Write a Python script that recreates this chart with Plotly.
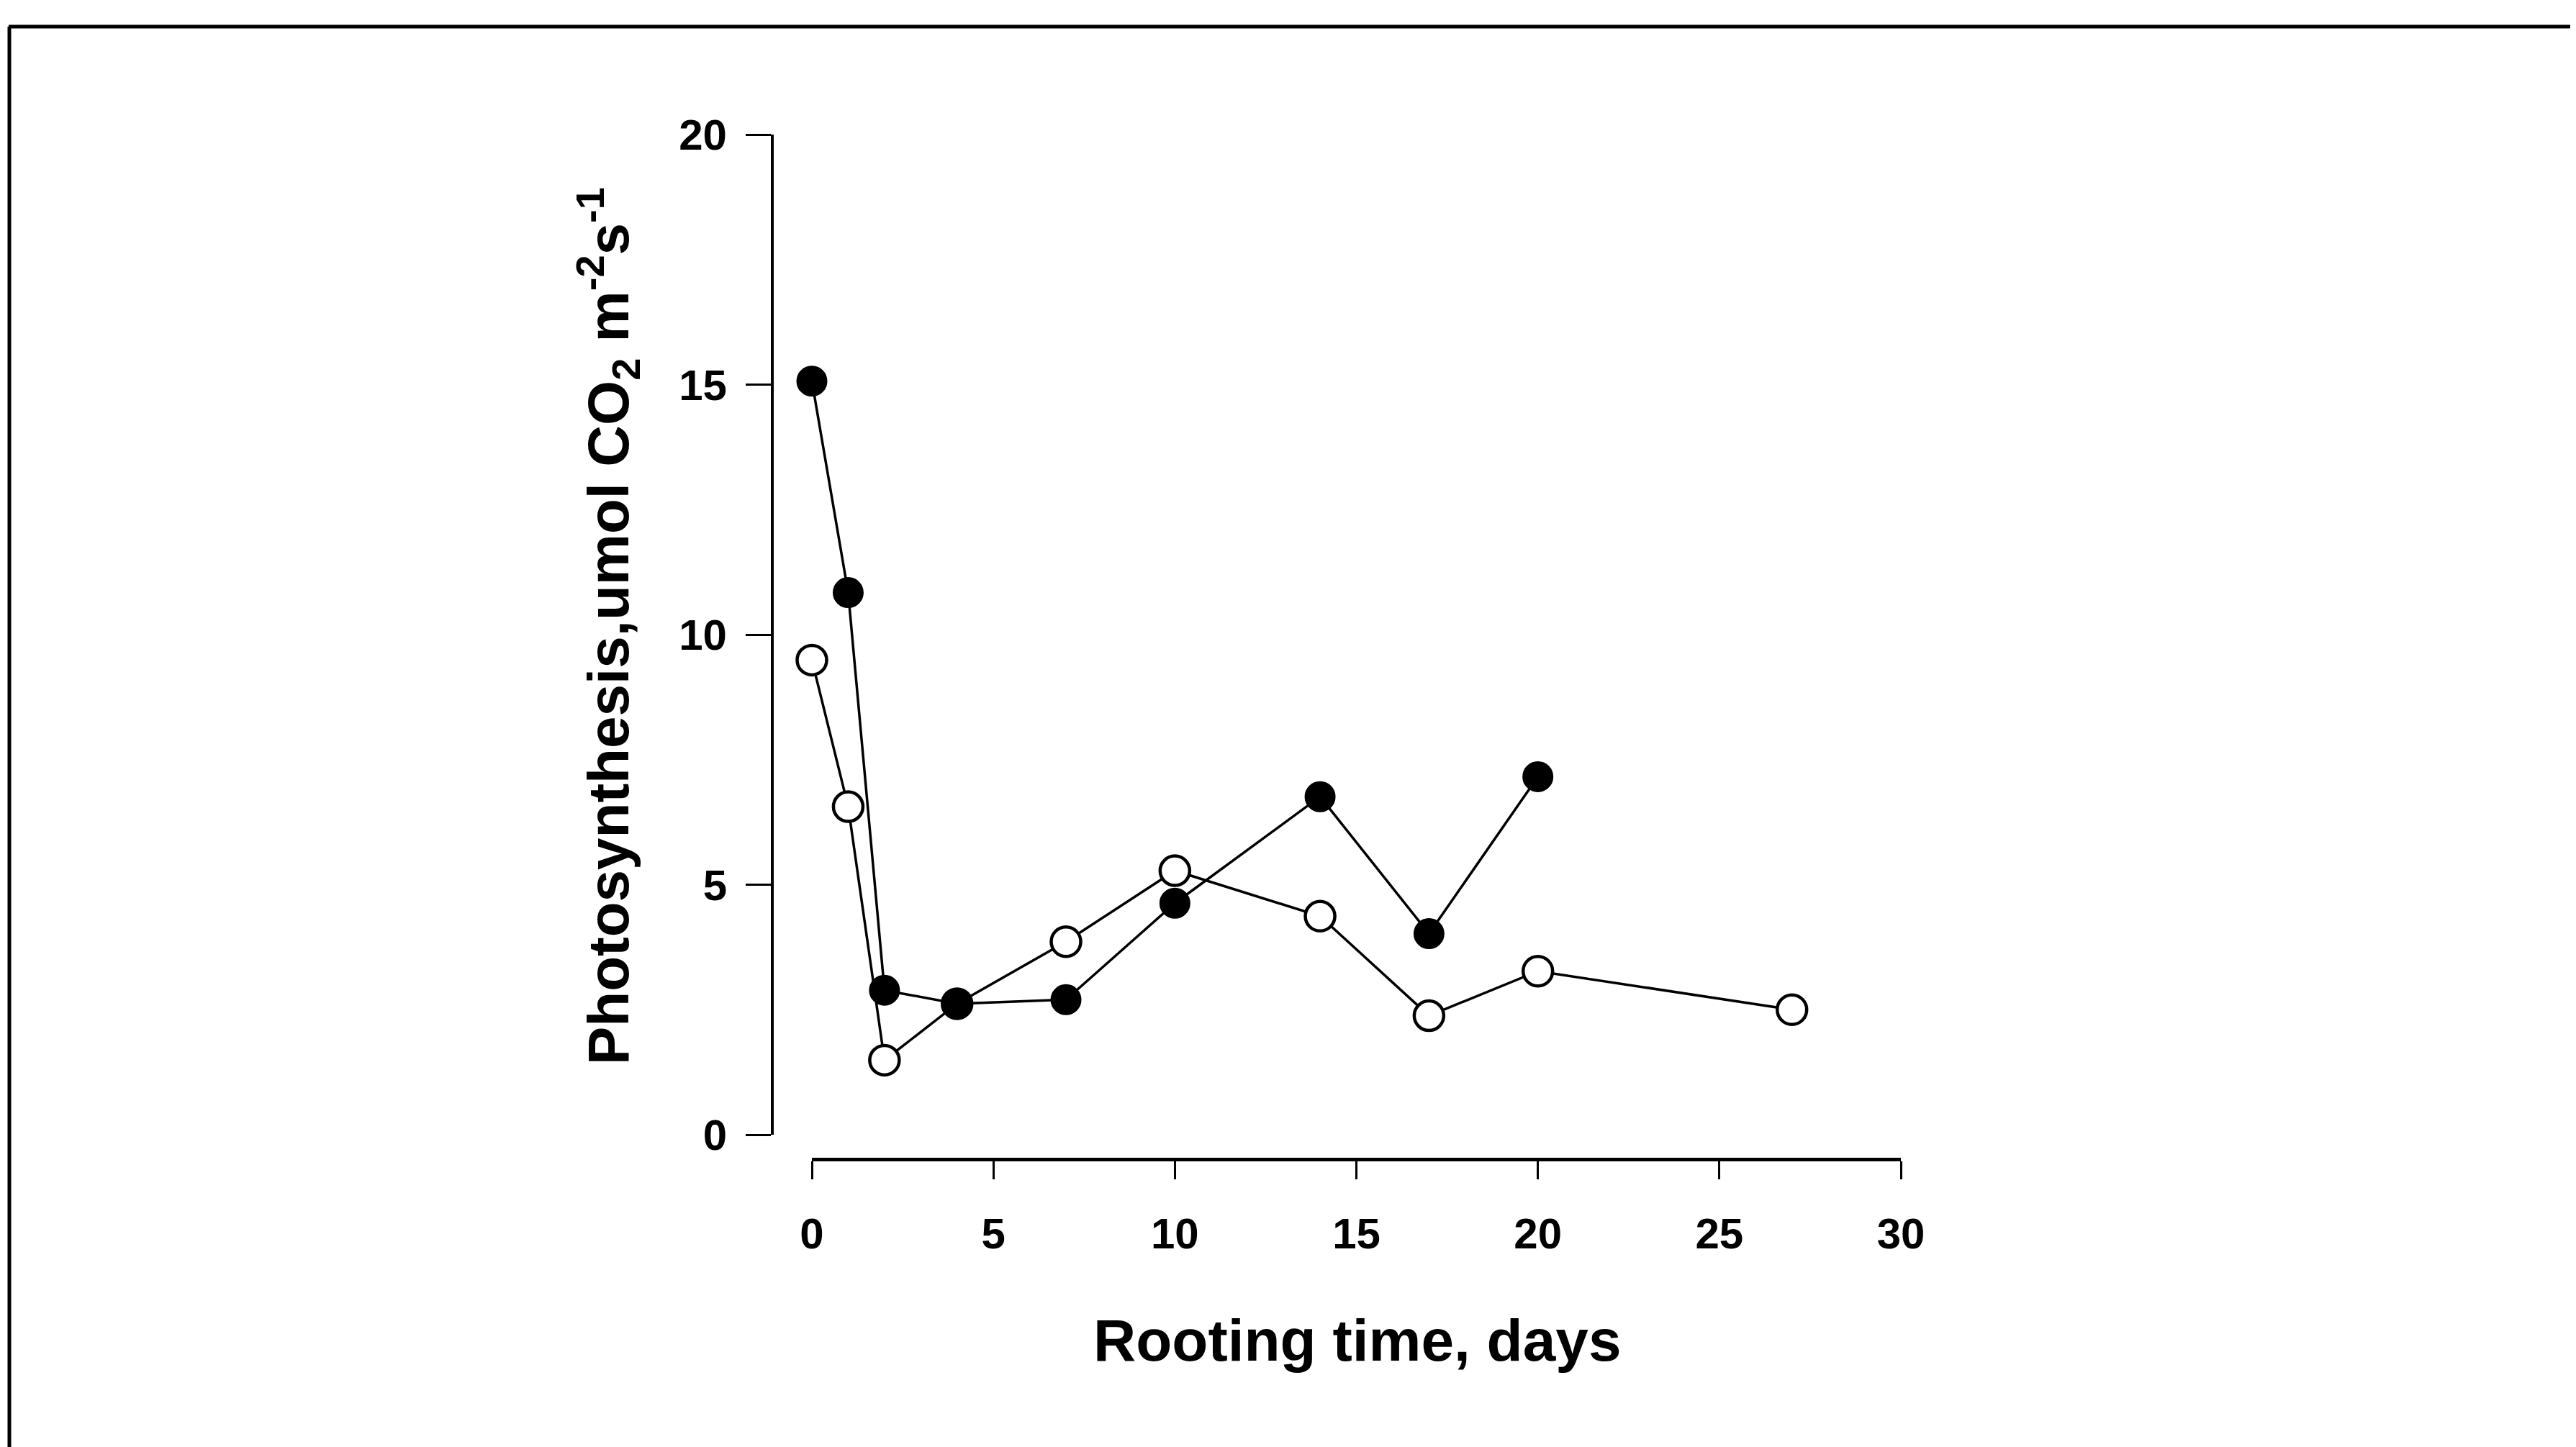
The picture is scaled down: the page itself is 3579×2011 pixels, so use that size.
import plotly.graph_objects as go

# ---- data ----
days_filled = [0, 1, 2, 4, 7, 10, 14, 17, 20]
photo_filled = [15.07, 10.84, 2.89, 2.62, 2.70, 4.63, 6.76, 4.02, 7.16]

days_open = [0, 1, 2, 4, 7, 10, 14, 17, 20, 27]
photo_open = [9.49, 6.56, 1.49, 2.62, 3.86, 5.28, 4.37, 2.38, 3.27, 2.50]

x_ticks = [0, 5, 10, 15, 20, 25, 30]
y_ticks = [0, 5, 10, 15, 20]

x_title = "Rooting time, days"
y_title = "Photosynthesis,umol CO<sub>2</sub> m<sup>-2</sup>s<sup>-1</sup>"

W, H = 3579, 2011
OFF = 8  # page body margin
FONT = "Liberation Sans, Arial, sans-serif"


def px(v):
    return (v - OFF) / W


def py(v):
    return 1 - (v - OFF) / H


fig = go.Figure()

fig.add_trace(go.Scatter(
    x=days_open, y=photo_open, mode="lines+markers",
    line=dict(color="black", width=3.5),
    marker=dict(symbol="circle", size=41, color="white",
                line=dict(color="black", width=4.5)),
    cliponaxis=False, showlegend=False,
))
fig.add_trace(go.Scatter(
    x=days_filled, y=photo_filled, mode="lines+markers",
    line=dict(color="black", width=3.5),
    marker=dict(symbol="circle", size=41, color="black",
                line=dict(color="black", width=2)),
    cliponaxis=False, showlegend=False,
))

fig.update_layout(
    width=W, height=H,
    margin=dict(l=0, r=0, t=0, b=0, autoexpand=False),
    paper_bgcolor="white", plot_bgcolor="white",
    font=dict(family=FONT, color="black", size=20),
    xaxis=dict(
        domain=[px(1128), px(2641)], range=[0, 30],
        anchor="free", position=py(1611),
        showline=True, linecolor="black", linewidth=5,
        showgrid=False, zeroline=False,
        ticks="outside", ticklen=25, tickwidth=3, tickcolor="black",
        tickvals=x_ticks, ticktext=[str(v) for v in x_ticks],
        tickfont=dict(family=FONT, size=60, color="black", weight="bold"),
        ticklabelstandoff=24,
    ),
    yaxis=dict(
        domain=[py(1577), py(187)], range=[0, 20],
        anchor="free", position=px(1073),
        showline=True, linecolor="black", linewidth=4,
        showgrid=False, zeroline=False,
        ticks="outside", ticklen=35, tickwidth=3, tickcolor="black",
        tickvals=y_ticks, ticktext=[str(v) for v in y_ticks],
        tickfont=dict(family=FONT, size=60, color="black", weight="bold"),
        ticklabelstandoff=14,
    ),
    annotations=[
        dict(text="<b>" + x_title + "</b>", xref="paper", yref="paper",
             x=px(1886), y=py(1862), showarrow=False,
             xanchor="center", yanchor="middle",
             font=dict(family=FONT, size=82, color="black")),
        dict(text="<b>" + y_title + "</b>", xref="paper", yref="paper",
             x=px(845), y=py(870), showarrow=False, textangle=-90,
             xanchor="center", yanchor="middle",
             font=dict(family=FONT, size=80, color="black")),
    ],
    shapes=[
        dict(type="line", xref="paper", yref="paper",
             x0=px(12), x1=1, y0=py(37), y1=py(37),
             line=dict(color="black", width=5)),
        dict(type="line", xref="paper", yref="paper",
             x0=px(13), x1=px(13), y0=0, y1=py(37),
             line=dict(color="black", width=5)),
    ],
)

fig.write_html("out.html")
